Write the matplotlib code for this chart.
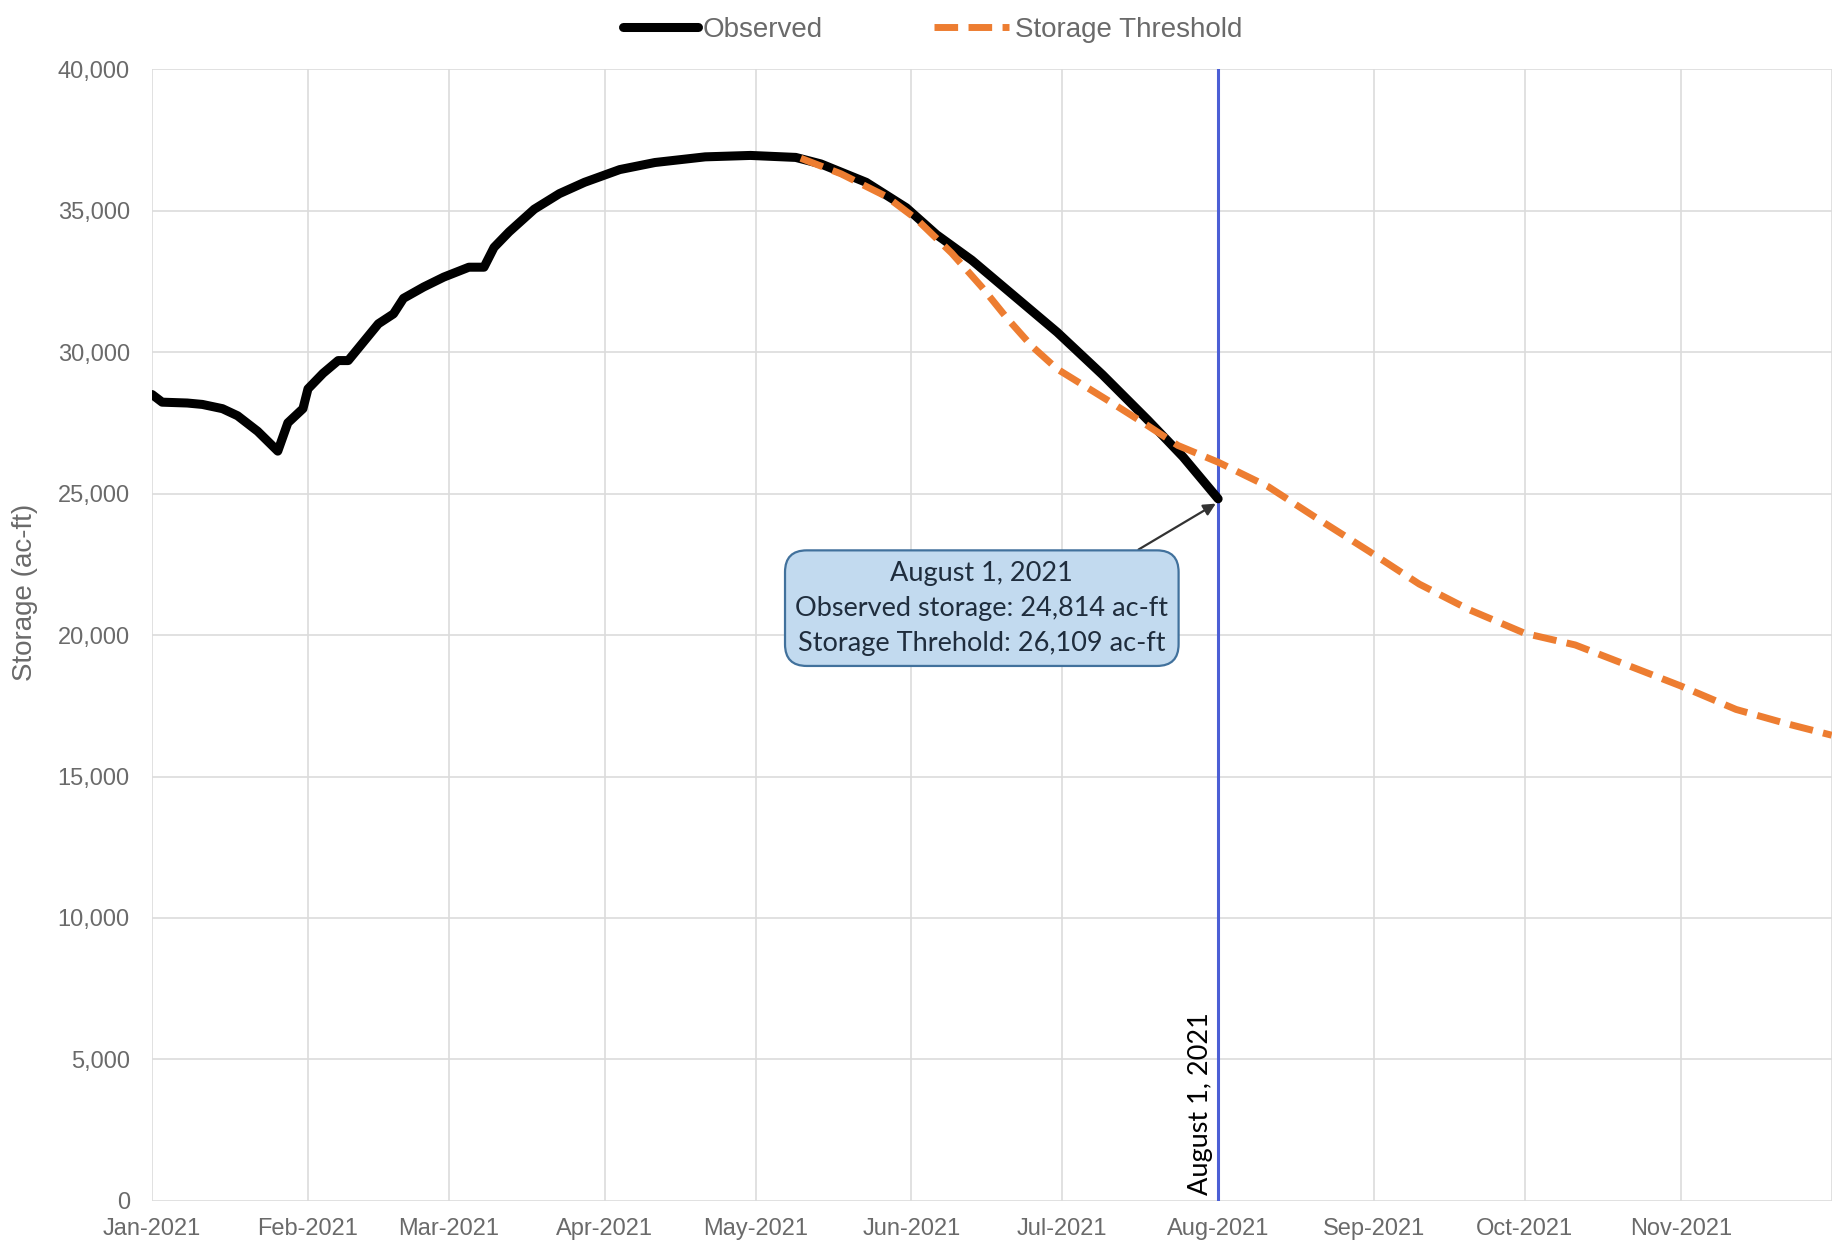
import matplotlib
matplotlib.use("Agg")
import matplotlib.pyplot as plt
import matplotlib.dates as mdates
import numpy as np
import pandas as pd

# ---------------- data ----------------
obs_dates = ["2021-01-01", "2021-01-03", "2021-01-08", "2021-01-11", "2021-01-15",
             "2021-01-18", "2021-01-22", "2021-01-26", "2021-01-28", "2021-01-31",
             "2021-02-01", "2021-02-04", "2021-02-07", "2021-02-09", "2021-02-12",
             "2021-02-15", "2021-02-18", "2021-02-20", "2021-02-24", "2021-02-28",
             "2021-03-05", "2021-03-08", "2021-03-10", "2021-03-13", "2021-03-18",
             "2021-03-23", "2021-03-28", "2021-04-04", "2021-04-11", "2021-04-21",
             "2021-04-30", "2021-05-09", "2021-05-14", "2021-05-23", "2021-05-31",
             "2021-06-06", "2021-06-13", "2021-06-20", "2021-06-30", "2021-07-09",
             "2021-07-18", "2021-07-25", "2021-08-01"]
obs_values = [28500, 28230, 28200, 28150, 28000,
              27750, 27200, 26500, 27500, 28000,
              28700, 29250, 29700, 29700, 30350,
              31000, 31350, 31900, 32300, 32650,
              33000, 33000, 33700, 34250, 35050,
              35600, 36000, 36450, 36700, 36900,
              36950, 36880, 36650, 36000, 35100,
              34150, 33250, 32200, 30700, 29200,
              27600, 26300, 24814]

thr_dates = ["2021-05-10", "2021-05-18", "2021-05-27", "2021-06-02", "2021-06-09",
             "2021-06-15", "2021-06-20", "2021-06-25", "2021-06-30", "2021-07-10",
             "2021-07-18", "2021-07-24", "2021-08-01", "2021-08-11", "2021-08-20",
             "2021-08-31", "2021-09-10", "2021-09-20", "2021-10-01", "2021-10-11",
             "2021-10-20", "2021-11-01", "2021-11-12", "2021-11-22", "2021-12-01"]
thr_values = [36850, 36300, 35500, 34700, 33500,
              32300, 31200, 30200, 29400, 28300,
              27400, 26700, 26109, 25240, 24200,
              22960, 21800, 20890, 20060, 19650,
              19030, 18200, 17370, 16870, 16460]

month_ticks = ["2021-01-01", "2021-02-01", "2021-03-01", "2021-04-01", "2021-05-01",
               "2021-06-01", "2021-07-01", "2021-08-01", "2021-09-01", "2021-10-01",
               "2021-11-01"]
y_ticks = [0, 5000, 10000, 15000, 20000, 25000, 30000, 35000, 40000]

event_date = "2021-08-01"
event_obs = 24814
event_thr = 26109

# ---------------- plot ----------------
obs_x = pd.to_datetime(obs_dates)
thr_x = pd.to_datetime(thr_dates)
tick_x = pd.to_datetime(month_ticks)
ev_x = pd.Timestamp(event_date)

fig = plt.figure(figsize=(18.39, 12.57), dpi=100)
ax = fig.add_axes([0.0827, 0.0446, 0.9133, 0.9004])

tick_color = "#6A6A6A"
grid_color = "#DCDCDC"

ax.plot(obs_x, obs_values, color="black", lw=6.5, solid_capstyle="round",
        solid_joinstyle="round", label="Observed", zorder=3)
ax.plot(thr_x, thr_values, color="#ED7D31", lw=5.0, linestyle=(0, (3.4, 1.5)),
        label="Storage Threshold", zorder=4)

ax.axvline(ev_x, color="#4C5FD5", lw=2.2, zorder=2)

ax.set_xlim(pd.Timestamp("2021-01-01"), pd.Timestamp("2021-12-01"))
ax.set_ylim(0, 40000)
ax.set_xticks(tick_x)
ax.xaxis.set_major_formatter(mdates.DateFormatter("%b-%Y"))
ax.set_yticks(y_ticks)
ax.set_yticklabels([f"{v:,}" for v in y_ticks])

ax.grid(True, color=grid_color, lw=1.2, zorder=0)
ax.set_axisbelow(True)
for s in ax.spines.values():
    s.set_visible(False)
ax.axvline(pd.Timestamp("2021-12-01"), color=grid_color, lw=1.2, zorder=0)

ax.tick_params(axis="both", length=0, colors=tick_color, labelsize=17)
ax.tick_params(axis="y", pad=16)
ax.tick_params(axis="x", pad=12)
for lab in ax.get_xticklabels() + ax.get_yticklabels():
    lab.set_fontfamily("Liberation Sans")

ax.set_ylabel("Storage (ac-ft)", fontsize=20, color=tick_color, family="Liberation Sans")
ax.yaxis.set_label_coords(-0.068, 0.538)

leg = fig.legend(loc="center", bbox_to_anchor=(0.507, 0.976), ncol=2, frameon=False,
                 handlelength=2.7, handletextpad=0.2, columnspacing=4.0,
                 prop={"family": "Liberation Sans", "size": 20})
for t in leg.get_texts():
    t.set_color(tick_color)

# annotation box
ann_text = (f"August 1, 2021\nObserved storage: {event_obs:,} ac-ft\n"
            f"Storage Threhold: {event_thr:,} ac-ft")
ax.annotate(ann_text, xy=(ev_x, event_obs - 120),
            xytext=(pd.Timestamp("2021-06-15"), 20950),
            ha="center", va="center", multialignment="center",
            fontsize=19.5, family="Lato", color="#1F2D3D", linespacing=1.5,
            bbox=dict(boxstyle="round,pad=0.38,rounding_size=0.8", fc="#C2DAEF",
                      ec="#41719C", lw=1.6),
            arrowprops=dict(arrowstyle="-|>", color="#333333", lw=1.6,
                            mutation_scale=18, relpos=(0.87, 1.0),
                            shrinkA=0, shrinkB=2),
            zorder=6)

ax.annotate("August 1, 2021", xy=(ev_x, 200), xytext=(-4, 0),
            textcoords="offset points", rotation=90, ha="right", va="bottom",
            fontsize=19.5, family="Lato", color="black", zorder=6)

fig.savefig("out.png", dpi=100)
